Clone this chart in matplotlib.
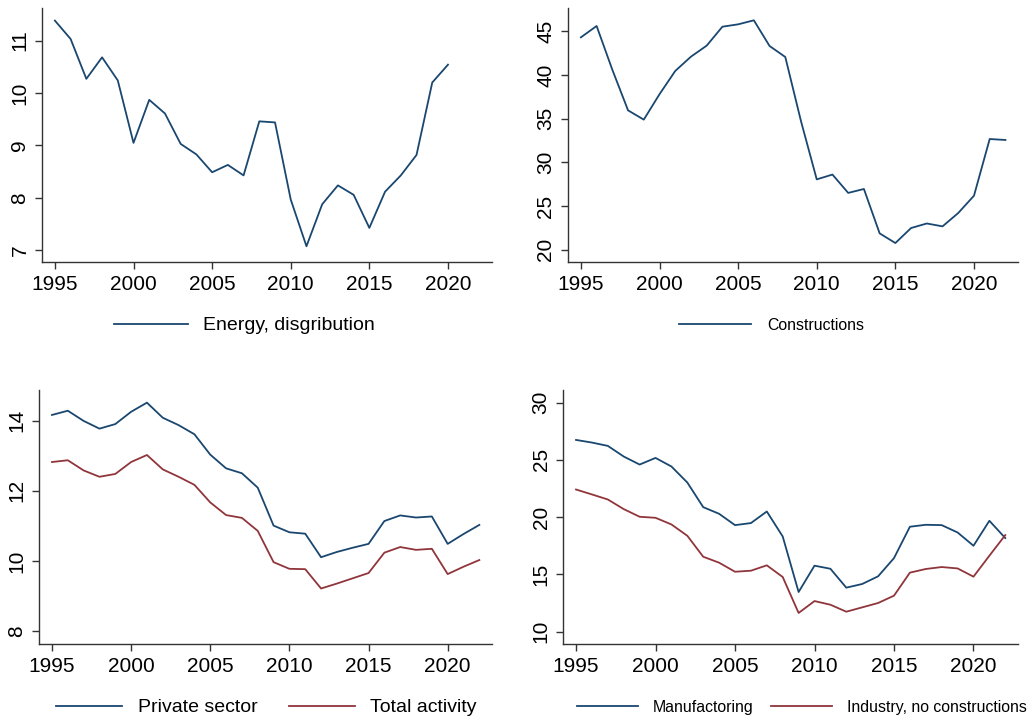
import matplotlib
matplotlib.use("Agg")
import matplotlib.pyplot as plt

plt.rcParams['font.family'] = ['Liberation Sans', 'DejaVu Sans']

# -------------------------------
# Data
# -------------------------------
years = list(range(1995, 2023))
years_energy = list(range(1995, 2021))

energy = [11.38, 11.03, 10.27, 10.68, 10.24, 9.05, 9.87, 9.61, 9.03, 8.83,
          8.49, 8.63, 8.43, 9.46, 9.44, 7.97, 7.08, 7.88, 8.24, 8.06,
          7.43, 8.12, 8.43, 8.82, 10.20, 10.54]

constructions = [44.31, 45.61, 40.6, 35.95, 34.89, 37.8, 40.46, 42.1, 43.36, 45.53,
                 45.8, 46.26, 43.32, 42.06, 34.7, 28.05, 28.6, 26.5, 26.95, 21.87,
                 20.76, 22.48, 23.0, 22.67, 24.2, 26.18, 32.67, 32.56]

private_sector = [14.16, 14.28, 13.99, 13.77, 13.9, 14.25, 14.51, 14.08, 13.87, 13.61,
                  13.03, 12.64, 12.5, 12.09, 11.01, 10.82, 10.78, 10.11, 10.26, 10.38,
                  10.49, 11.14, 11.3, 11.24, 11.27, 10.49, 10.77, 11.03]

total_activity = [12.82, 12.87, 12.58, 12.4, 12.48, 12.82, 13.02, 12.61, 12.4, 12.17,
                  11.67, 11.31, 11.23, 10.86, 9.97, 9.78, 9.77, 9.22, 9.36, 9.51,
                  9.66, 10.24, 10.4, 10.32, 10.35, 9.63, 9.84, 10.03]

manufactoring = [26.74, 26.51, 26.22, 25.29, 24.59, 25.17, 24.42, 23.02, 20.87, 20.29,
                 19.3, 19.48, 20.49, 18.31, 13.46, 15.76, 15.49, 13.84, 14.16, 14.83,
                 16.42, 19.16, 19.33, 19.3, 18.66, 17.5, 19.68, 18.17]

industry = [22.41, 21.98, 21.54, 20.7, 20.03, 19.94, 19.36, 18.37, 16.54, 16.02,
            15.23, 15.32, 15.79, 14.77, 11.63, 12.67, 12.35, 11.74, 12.12, 12.5,
            13.14, 15.15, 15.47, 15.64, 15.52, 14.8, 16.63, 18.43]

x_ticks = [1995, 2000, 2005, 2010, 2015, 2020]

BLUE = '#1a476f'
RED = '#90353b'
AXC = '#333333'

W, H = 1031, 722
fig = plt.figure(figsize=(W / 100, H / 100), dpi=100)


def make_axes(left, right, top, bottom):
    # pixel box -> figure fraction
    return fig.add_axes([left / W, 1 - bottom / H, (right - left) / W, (bottom - top) / H])


def style(ax, ylim, yticks):
    ax.set_xlim(1994.18, 2022.8)
    ax.set_ylim(*ylim)
    ax.set_xticks(x_ticks)
    ax.set_yticks(yticks)
    ax.set_yticklabels([str(t) for t in yticks], rotation=90, va='center')
    for s in ['top', 'right']:
        ax.spines[s].set_visible(False)
    for s in ['left', 'bottom']:
        ax.spines[s].set_color(AXC)
        ax.spines[s].set_linewidth(1.0)
    ax.tick_params(axis='both', length=5, width=1.0, color=AXC, labelsize=15, pad=4)


# -------------------------------
# Top-left: energy
# -------------------------------
ax1 = make_axes(42, 492, 8, 262)
ax1.plot(years_energy, energy, color=BLUE, lw=1.3, label='Energy, disgribution')
style(ax1, (6.78, 11.62), [7, 8, 9, 10, 11])
ax1.legend(loc='center', bbox_to_anchor=(0.45, -0.25), frameon=False, fontsize=14,
           handlelength=3.8, handletextpad=0.8)

# -------------------------------
# Top-right: constructions
# -------------------------------
ax2 = make_axes(568, 1018, 8, 262)
ax2.plot(years, constructions, color=BLUE, lw=1.3, label='Constructions')
style(ax2, (18.59, 47.67), [20, 25, 30, 35, 40, 45])
ax2.legend(loc='center', bbox_to_anchor=(0.452, -0.25), frameon=False, fontsize=11.4,
           handlelength=4.6, handletextpad=1.0)

# -------------------------------
# Bottom-left: private sector vs total
# -------------------------------
ax3 = make_axes(39, 492, 390, 644)
ax3.plot(years, private_sector, color=BLUE, lw=1.3, label='Private sector')
ax3.plot(years, total_activity, color=RED, lw=1.3, label='Total activity')
style(ax3, (7.64, 14.87), [8, 10, 12, 14])
ax3.legend(loc='center', bbox_to_anchor=(0.502, -0.25), frameon=False, fontsize=14, ncol=2,
           handlelength=3.4, handletextpad=0.8, columnspacing=1.6)

# -------------------------------
# Bottom-right: manufactoring vs industry
# -------------------------------
ax4 = make_axes(563, 1018, 390, 644)
ax4.plot(years, manufactoring, color=BLUE, lw=1.3, label='Manufactoring')
ax4.plot(years, industry, color=RED, lw=1.3, label='Industry, no constructions')
style(ax4, (8.92, 31.1), [10, 15, 20, 25, 30])
ax4.legend(loc='center', bbox_to_anchor=(0.525, -0.25), frameon=False, fontsize=11.4, ncol=2,
           handlelength=3.85, handletextpad=0.9, columnspacing=1.15)

fig.savefig('out.png', dpi=100)
